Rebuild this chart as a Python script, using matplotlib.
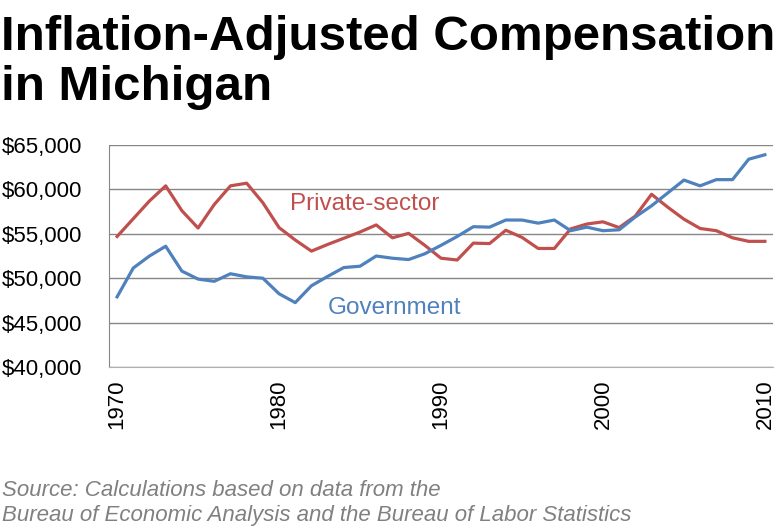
import matplotlib
matplotlib.use("Agg")
import matplotlib.pyplot as plt
from matplotlib import font_manager
from matplotlib.ticker import FuncFormatter

plt.rcParams.update({"font.family": "Liberation Sans"})

RED = "#C0504D"
BLUE = "#4F81BD"
GRID = "#868686"

years = list(range(1970, 2011))
private = [54700, 56700, 58700, 60400, 57600, 55650, 58300, 60400, 60700, 58500,
           55700, 54300, 53050, 53800, 54500, 55200, 56000, 54550, 55050, 53700,
           52250, 52050, 53950, 53900, 55400, 54600, 53350, 53350, 55550, 56100,
           56350, 55700, 57000, 59450, 58000, 56650, 55600, 55350, 54550, 54150,
           54150]
government = [47900, 51150, 52500, 53600, 50800, 49900, 49650, 50500, 50150, 50000,
              48250, 47250, 49150, 50200, 51200, 51350, 52500, 52250, 52100, 52750,
              53700, 54700, 55800, 55750, 56550, 56550, 56200, 56550, 55350, 55750,
              55350, 55450, 56900, 58150, 59600, 61050, 60400, 61100, 61100, 63400,
              63900]
y_ticks = [40000, 45000, 50000, 55000, 60000, 65000]
x_ticks = [1970, 1980, 1990, 2000, 2010]


def title_font():
    # Arial Narrow-like face if present, else plain Liberation Sans bold
    names = {f.name for f in font_manager.fontManager.ttflist}
    fam = "Liberation Sans Narrow" if "Liberation Sans Narrow" in names else "Liberation Sans"
    return font_manager.FontProperties(family=fam, weight="bold")


W, H = 781, 530
fig = plt.figure(figsize=(W / 100, H / 100), dpi=100)
ax = fig.add_axes([109 / W, 1 - 367 / H, 664 / W, 222 / H])

ax.plot(years, private, color=RED, lw=2.3, solid_joinstyle="round", zorder=3)
ax.plot(years, government, color=BLUE, lw=2.3, solid_joinstyle="round", zorder=3)

ax.set_xlim(1969.5, 2010.5)
ax.set_ylim(40000, 65000)
ax.set_yticks(y_ticks)
ax.yaxis.set_major_formatter(FuncFormatter(lambda v, p: f"${v:,.0f}"))
ax.set_xticks(x_ticks)
ax.set_xticklabels([str(x) for x in x_ticks], rotation=90)
ax.tick_params(axis="y", length=0, labelsize=16, pad=19, colors="black")
ax.tick_params(axis="x", length=0, labelsize=16, pad=9, colors="black")
ax.grid(axis="y", color=GRID, lw=1)
for s in ["top", "right"]:
    ax.spines[s].set_visible(False)
ax.spines["left"].set_color(GRID)
ax.spines["bottom"].set_color("#b0b0b0")

ax.text(1980.7, 58300, "Private-sector", color=RED, fontsize=17.5, va="center")
ax.text(1983.0, 46600, "Government", color=BLUE, fontsize=17.5, va="center")

# title: fit the first line to ~775 px wide
fp = title_font()
fp.set_size(41)
t1 = fig.text(1 / W, 1 - 50 / H, "Inflation-Adjusted Compensation",
              fontproperties=fp, va="baseline", ha="left")
renderer = fig.canvas.get_renderer()
width = t1.get_window_extent(renderer).width
size = min(41, 41 * 775 / width)
fp.set_size(size)
t1.set_fontproperties(fp)
fig.text(1 / W, 1 - 100 / H, "in Michigan", fontproperties=fp,
         va="baseline", ha="left")

src_color = "#808080"
fig.text(2 / W, 1 - 496 / H, "Source: Calculations based on data from the",
         fontsize=16, style="italic", color=src_color, va="baseline")
fig.text(2 / W, 1 - 521 / H,
         "Bureau of Economic Analysis and the Bureau of Labor Statistics",
         fontsize=16, style="italic", color=src_color, va="baseline")

fig.savefig("out.png", dpi=100)
